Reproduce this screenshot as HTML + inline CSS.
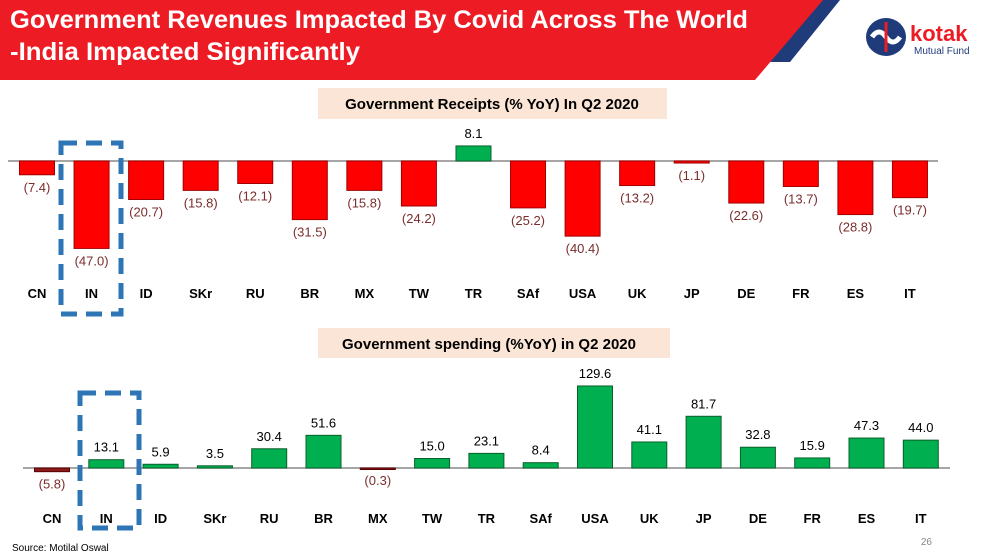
<!DOCTYPE html>
<html><head><meta charset="utf-8">
<style>
body{margin:0;width:993px;height:556px;overflow:hidden;background:#fff;font-family:"Liberation Sans",sans-serif;position:relative}
.t{font-family:"Liberation Sans",sans-serif}
</style></head>
<body>
<svg width="993" height="556" viewBox="0 0 993 556" style="position:absolute;left:0;top:0">
  <polygon points="0,0 840,0 790,62 0,62" fill="#1f3b7a"/>
  <polygon points="0,0 823,0 755,80 0,80" fill="#ed1c24"/>
  <text x="10" y="28" font-size="25" font-weight="bold" fill="#fff" class="t" textLength="738" lengthAdjust="spacingAndGlyphs">Government Revenues Impacted By Covid Across The World</text>
  <text x="10" y="60" font-size="25" font-weight="bold" fill="#fff" class="t" textLength="350" lengthAdjust="spacingAndGlyphs">-India Impacted Significantly</text>
  <g>
    <ellipse cx="886" cy="37" rx="20" ry="19" fill="#1f3b7a"/>
    <path d="M872,37 q7,-10 14,0 q7,10 14,0" stroke="#fff" stroke-width="5" fill="none"/>
    <line x1="886" y1="22" x2="886" y2="52" stroke="#ed1c24" stroke-width="3"/>
    <text x="910" y="41" font-size="22" font-weight="bold" fill="#ed1c24" class="t">kotak</text>
    <text x="914" y="54" font-size="10" fill="#1f3b7a" class="t">Mutual Fund</text>
  </g>
  <rect x="318" y="88" width="349" height="31" fill="#fbe5d6"/>
  <text x="492" y="109" font-size="15" font-weight="bold" text-anchor="middle" fill="#000" class="t">Government Receipts (% YoY) In Q2 2020</text>
  <rect x="318" y="328" width="352" height="30" fill="#fbe5d6"/>
  <text x="489" y="349" font-size="15" font-weight="bold" text-anchor="middle" fill="#000" class="t">Government spending (%YoY) in Q2 2020</text>
  <g id="c1"></g>
  <g id="c2"></g>
  <rect x="61" y="143" width="60" height="171" fill="none" stroke="#2e75b6" stroke-width="5" stroke-dasharray="16,9"/>
  <rect x="80" y="393" width="59" height="135" fill="none" stroke="#2e75b6" stroke-width="5" stroke-dasharray="16,9"/>
  <text x="12" y="551" font-size="10" fill="#000" class="t">Source: Motilal Oswal</text>
  <text x="932" y="545" font-size="10" fill="#888" text-anchor="end" class="t">26</text>
</svg>
<script>
const categories=["CN","IN","ID","SKr","RU","BR","MX","TW","TR","SAf","USA","UK","JP","DE","FR","ES","IT"];
const receipts=[-7.4,-47.0,-20.7,-15.8,-12.1,-31.5,-15.8,-24.2,8.1,-25.2,-40.4,-13.2,-1.1,-22.6,-13.7,-28.8,-19.7];
const spending=[-5.8,13.1,5.9,3.5,30.4,51.6,-0.3,15.0,23.1,8.4,129.6,41.1,81.7,32.8,15.9,47.3,44.0];
const NS="http://www.w3.org/2000/svg";
function mk(tag,attrs,parent){const e=document.createElementNS(NS,tag);for(const k in attrs)e.setAttribute(k,attrs[k]);parent.appendChild(e);return e;}
function fmt(v){return v<0?"("+Math.abs(v).toFixed(1)+")":v.toFixed(1);}
function draw(gid,vals,o){
  const g=document.getElementById(gid);
  const x=i=>o.x0+i*o.pitch;
  const y=v=>o.base-v*o.scale;
  const ax=mk('line',{x1:o.l0,x2:o.l1,y1:o.base,y2:o.base,stroke:'#888','stroke-width':1.5},g);
  
  
  vals.forEach((v,i)=>{
    const top=Math.min(y(v),o.base),h=Math.max(Math.abs(y(v)-o.base),1.5);
    const r=mk('rect',{x:x(i)-17.5,y:top,width:35,height:h,fill:v<0?o.neg:o.pos,stroke:v<0?o.negS:'#0b5f2a','stroke-width':1},g);
    
    
    const ly=v<0?y(v)+17:y(v)-8;
    const t=mk('text',{x:x(i),y:ly,'font-size':13,'text-anchor':'middle',fill:v<0?'#7b2d2d':'#000','font-family':'Liberation Sans, sans-serif'},g);
    t.textContent=fmt(v);
    
    
    const c=mk('text',{x:x(i),y:o.catY,'font-size':13,'font-weight':'bold','text-anchor':'middle',fill:'#000','font-family':'Liberation Sans, sans-serif'},g);
    c.textContent=categories[i];
    
    
  });
}
draw('c1',receipts,{name:'receipts',x0:37,pitch:54.56,base:161,scale:1.86,l0:8,l1:938,catY:298,pos:'#00b050',neg:'#ff0000',negS:'#a00000'});
draw('c2',spending,{name:'spending',x0:52,pitch:54.3,base:468,scale:0.633,l0:23,l1:950,catY:523,pos:'#00b050',neg:'#8b1a1a',negS:'#5a0000'});
</script>
</body></html>
